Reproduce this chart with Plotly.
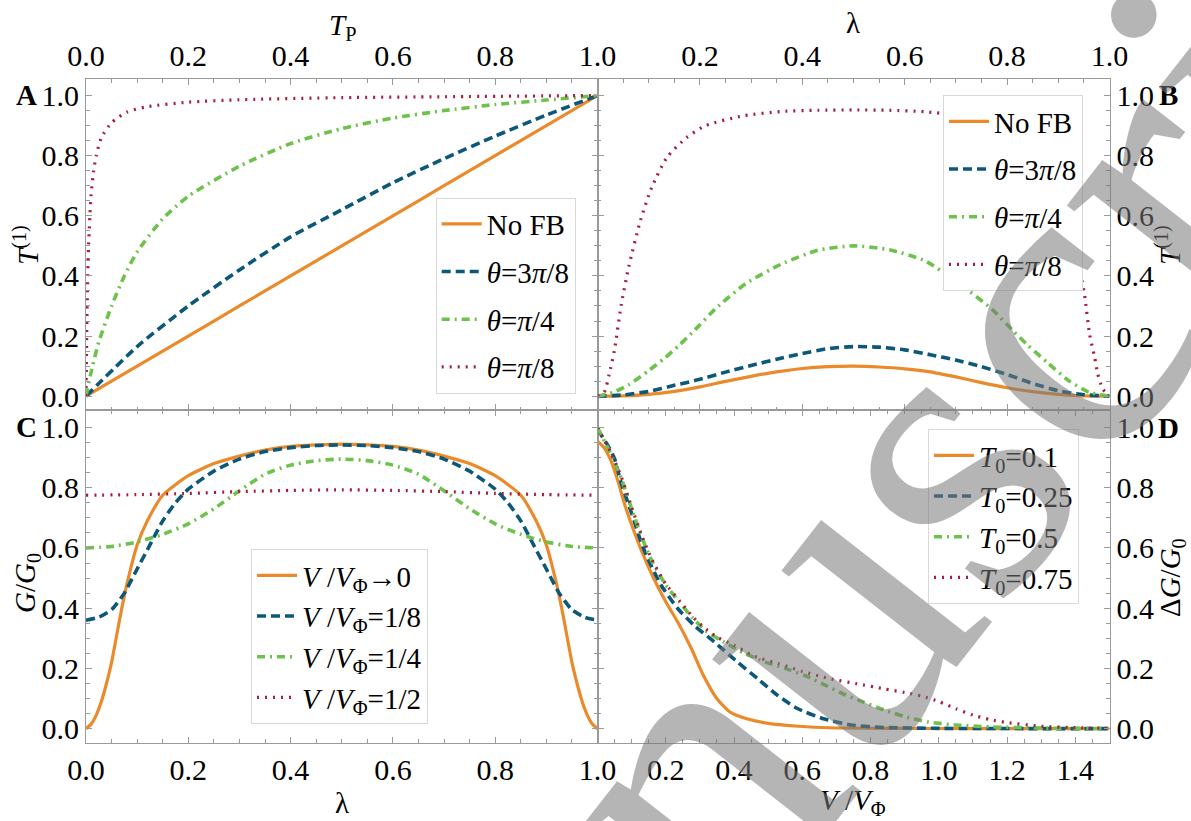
import numpy as np
import plotly.graph_objects as go

# ---------------- data ----------------
# Panel A : T^(1) vs T_P
a_tp_lin = [0, 0.1, 0.2, 0.3, 0.4, 0.5, 0.6, 0.7, 0.8, 0.9, 1.0]
a_nofb = [0, 0.1, 0.2, 0.3, 0.4, 0.5, 0.6, 0.7, 0.8, 0.9, 1.0]
a_3pi8 = [0, 0.165, 0.30, 0.42, 0.53, 0.62, 0.71, 0.79, 0.865, 0.935, 1.0]
a_tp_pi4 = [0, 0.01, 0.025, 0.05, 0.075, 0.1, 0.15, 0.2, 0.3, 0.4, 0.5, 0.6, 0.7, 0.8, 0.9, 1.0]
a_pi4 = [0, 0.08, 0.18, 0.30, 0.40, 0.48, 0.59, 0.665, 0.765, 0.84, 0.89, 0.925, 0.95, 0.97, 0.985, 1.0]
a_tp_pi8 = [0, 0.002, 0.005, 0.01, 0.015, 0.02, 0.03, 0.05, 0.08, 0.12, 0.2, 0.3, 0.5, 0.7, 1.0]
a_pi8 = [0, 0.28, 0.50, 0.67, 0.75, 0.80, 0.86, 0.91, 0.945, 0.963, 0.978, 0.986, 0.993, 0.996, 1.0]

# Panel B : T^(1) vs lambda
b_lam = [0, 0.05, 0.1, 0.15, 0.2, 0.25, 0.3, 0.35, 0.4, 0.45, 0.5, 0.55, 0.6, 0.65, 0.7, 0.75, 0.8, 0.85, 0.9, 0.95, 1.0]
b_nofb = [0, 0.001, 0.006, 0.016, 0.031, 0.049, 0.066, 0.081, 0.092, 0.098, 0.1, 0.097, 0.091, 0.081, 0.064, 0.045, 0.028, 0.015, 0.006, 0.001, 0]
b_3pi8 = [0, 0.004, 0.016, 0.036, 0.056, 0.08, 0.102, 0.123, 0.142, 0.158, 0.165, 0.163, 0.154, 0.138, 0.12, 0.098, 0.072, 0.042, 0.018, 0.005, 0]
b_lam_pi4 = [0, 0.03, 0.06, 0.1, 0.13, 0.16, 0.19, 0.23, 0.29, 0.36, 0.43, 0.5, 0.57, 0.64, 0.71, 0.77, 0.81, 0.84, 0.88, 0.92, 0.96, 1.0]
b_pi4 = [0, 0.012, 0.037, 0.085, 0.125, 0.17, 0.22, 0.29, 0.375, 0.44, 0.485, 0.50, 0.487, 0.45, 0.37, 0.29, 0.22, 0.17, 0.11, 0.052, 0.013, 0]
b_lam_pi8 = [0, 0.013, 0.023, 0.033, 0.046, 0.061, 0.084, 0.106, 0.136, 0.174, 0.211, 0.286, 0.36, 0.43, 0.5,
             0.57, 0.64, 0.71, 0.79, 0.83, 0.87, 0.9, 0.93, 0.951, 0.961, 0.971, 0.977, 0.987, 1.0]
b_pi8 = [0, 0.013, 0.074, 0.152, 0.30, 0.43, 0.585, 0.695, 0.795, 0.86, 0.90, 0.933, 0.947, 0.951, 0.952,
         0.951, 0.946, 0.932, 0.895, 0.86, 0.80, 0.69, 0.52, 0.34, 0.207, 0.13, 0.074, 0.024, 0]

# Panel C : G/G0 vs lambda
c_lam_0 = [0, 0.01, 0.02, 0.03, 0.04, 0.05, 0.06, 0.07, 0.08, 0.1, 0.12, 0.15, 0.2, 0.25, 0.3, 0.35, 0.4, 0.5,
           0.6, 0.65, 0.7, 0.75, 0.8, 0.85, 0.88, 0.9, 0.92, 0.93, 0.94, 0.95, 0.96, 0.97, 0.98, 0.99, 1.0]
c_v0 = [0, 0.015, 0.045, 0.09, 0.15, 0.22, 0.31, 0.40, 0.48, 0.61, 0.69, 0.775, 0.84, 0.88, 0.905, 0.925, 0.937, 0.945,
        0.937, 0.925, 0.905, 0.88, 0.84, 0.775, 0.69, 0.61, 0.48, 0.40, 0.31, 0.22, 0.15, 0.09, 0.045, 0.015, 0]
c_lam_8 = [0, 0.025, 0.05, 0.075, 0.1, 0.125, 0.15, 0.175, 0.2, 0.25, 0.3, 0.35, 0.4, 0.45, 0.5,
           0.55, 0.6, 0.65, 0.7, 0.75, 0.8, 0.825, 0.85, 0.875, 0.9, 0.925, 0.95, 0.975, 1.0]
c_v8 = [0.36, 0.37, 0.395, 0.45, 0.53, 0.61, 0.69, 0.75, 0.795, 0.855, 0.895, 0.92, 0.933, 0.94, 0.942,
        0.94, 0.933, 0.92, 0.895, 0.855, 0.795, 0.75, 0.69, 0.61, 0.53, 0.45, 0.395, 0.37, 0.36]
c_lam_4 = [0, 0.05, 0.1, 0.15, 0.2, 0.25, 0.3, 0.35, 0.4, 0.45, 0.5, 0.55, 0.6, 0.65, 0.7, 0.75, 0.8, 0.85, 0.9, 0.95, 1.0]
c_v4 = [0.600, 0.605, 0.62, 0.645, 0.68, 0.73, 0.79, 0.845, 0.875, 0.89, 0.895, 0.89, 0.875, 0.845, 0.79, 0.73, 0.68,
        0.645, 0.62, 0.605, 0.600]
c_lam_2 = [0, 0.1, 0.2, 0.3, 0.4, 0.5, 0.6, 0.7, 0.8, 0.9, 1.0]
c_v2 = [0.775, 0.777, 0.781, 0.787, 0.791, 0.793, 0.791, 0.787, 0.781, 0.777, 0.775]

# Panel D : dG/G0 vs V/V_Phi
d_v_01 = [0, 0.02, 0.04, 0.06, 0.08, 0.1, 0.13, 0.16, 0.2, 0.235, 0.275, 0.31, 0.35, 0.39, 0.44, 0.51, 0.59, 0.68, 0.88, 1.1, 1.5]
d_t01 = [0.954, 0.932, 0.888, 0.821, 0.743, 0.677, 0.588, 0.51, 0.421, 0.354, 0.266, 0.177, 0.099, 0.054, 0.032, 0.016,
         0.008, 0.003, 0.001, 0.0, 0.0]
d_v_025 = [0, 0.029, 0.049, 0.068, 0.088, 0.108, 0.127, 0.147, 0.186, 0.235, 0.283, 0.342, 0.41, 0.469, 0.528, 0.587,
           0.665, 0.743, 0.84, 1.0, 1.5]
d_t025 = [0.993, 0.943, 0.899, 0.821, 0.754, 0.688, 0.621, 0.566, 0.477, 0.399, 0.343, 0.288, 0.221, 0.166, 0.11, 0.066,
          0.032, 0.012, 0.004, 0.001, 0.0]
d_v_05 = [0, 0.04, 0.07, 0.1, 0.13, 0.16, 0.2, 0.24, 0.28, 0.32, 0.37, 0.43, 0.49, 0.55, 0.61, 0.67, 0.72, 0.78, 0.84,
          0.9, 0.97, 1.05, 1.15, 1.3, 1.5]
d_t05 = [1.0, 0.91, 0.83, 0.73, 0.635, 0.555, 0.477, 0.42, 0.366, 0.322, 0.288, 0.25, 0.222, 0.2, 0.175, 0.143, 0.115,
         0.088, 0.062, 0.04, 0.022, 0.012, 0.006, 0.002, 0.0]
d_v_075 = [0, 0.04, 0.07, 0.1, 0.13, 0.16, 0.2, 0.24, 0.28, 0.31, 0.35, 0.4, 0.46, 0.53, 0.6, 0.68, 0.76, 0.84, 0.9,
           0.95, 1.0, 1.05, 1.1, 1.15, 1.2, 1.3, 1.4, 1.5]
d_t075 = [1.0, 0.915, 0.835, 0.735, 0.64, 0.56, 0.48, 0.425, 0.37, 0.338, 0.304, 0.277, 0.24, 0.216, 0.19, 0.166, 0.149,
          0.132, 0.12, 0.108, 0.09, 0.066, 0.045, 0.03, 0.02, 0.008, 0.003, 0.001]

legend_ab = ["No FB", "<i>θ</i>=3<i>π</i>/8", "<i>θ</i>=<i>π</i>/4", "<i>θ</i>=<i>π</i>/8"]
legend_c = ["<i>V</i> /<i>V</i><sub>Φ</sub>→0", "<i>V</i> /<i>V</i><sub>Φ</sub>=1/8",
            "<i>V</i> /<i>V</i><sub>Φ</sub>=1/4", "<i>V</i> /<i>V</i><sub>Φ</sub>=1/2"]
legend_d = ["<i>T</i><sub>0</sub>=0.1", "<i>T</i><sub>0</sub>=0.25", "<i>T</i><sub>0</sub>=0.5", "<i>T</i><sub>0</sub>=0.75"]

# ---------------- styling ----------------
W, H = 1191, 821
FONT = '"Liberation Serif", "Times New Roman", serif'
ORANGE, TEAL, GREEN, RED = "#EA8A2B", "#0C5878", "#6CC24A", "#A91D3A"
STYLES = [
    dict(color=ORANGE, width=3.2, dash="solid"),
    dict(color=TEAL, width=3.6, dash="9px,5px"),
    dict(color=GREEN, width=3.6, dash="8px,5px,2px,5px"),
    dict(color=RED, width=3.2, dash="2px,6px"),
]
FRAME = "#9a9a9a"


def px(x):
    return x / W


def py(y):
    return 1 - y / H


XL = (px(86), px(597.5))
XR = (px(597.5), px(1109.5))
YT = (py(410), py(79))
YB = (py(742.5), py(410))

fig = go.Figure()

panels = [
    ("x", "y", "legend", [(a_tp_lin, a_nofb), (a_tp_lin, a_3pi8), (a_tp_pi4, a_pi4), (a_tp_pi8, a_pi8)], legend_ab),
    ("x2", "y2", "legend2", [(b_lam, b_nofb), (b_lam, b_3pi8), (b_lam_pi4, b_pi4), (b_lam_pi8, b_pi8)], legend_ab),
    ("x3", "y3", "legend3", [(c_lam_0, c_v0), (c_lam_8, c_v8), (c_lam_4, c_v4), (c_lam_2, c_v2)], legend_c),
    ("x4", "y4", "legend4", [(d_v_01, d_t01), (d_v_025, d_t025), (d_v_05, d_t05), (d_v_075, d_t075)], legend_d),
]
for xa, ya, lg, series, names in panels:
    for i, ((xs, ys), name) in enumerate(zip(series, names)):
        fig.add_trace(go.Scatter(
            x=xs, y=ys, mode="lines", name=name, xaxis=xa, yaxis=ya, legend=lg,
            legendgroup=f"{lg}_{i}", line=dict(shape="spline", smoothing=0.6, **STYLES[i]),
            showlegend=True,
        ))

tickfont = dict(family=FONT, size=30, color="black")


def axis(domain, anchor, side, rng, major, labels, minor_max):
    return dict(
        domain=list(domain), anchor=anchor, side=side, range=rng, automargin=False,
        tickmode="array", tickvals=major, ticktext=labels,
        ticks="inside", ticklen=6, tickwidth=1, tickcolor=FRAME,
        minor=dict(tickmode="array", tickvals=list(np.round(np.arange(0, minor_max + 1e-9, 0.05), 3)),
                   ticklen=3.5, tickcolor=FRAME, ticks="inside", showgrid=False),
        showline=True, linecolor=FRAME, linewidth=1, mirror="ticks",
        showgrid=False, zeroline=False, tickfont=tickfont, fixedrange=True,
    )


maj1 = [0, 0.2, 0.4, 0.6, 0.8, 1.0]
lab1 = ["0.0", "0.2", "0.4", "0.6", "0.8", "1.0"]
lab1_no0 = ["", "0.2", "0.4", "0.6", "0.8", "1.0"]
maj15 = [0, 0.2, 0.4, 0.6, 0.8, 1.0, 1.2, 1.4]
lab15 = ["", "0.2", "0.4", "0.6", "0.8", "1.0", "1.2", "1.4"]
yr_top = [-0.046, 1.055]
yr_bot = [-0.046, 1.058]

fig.update_layout(
    xaxis=axis(XL, "y", "top", [0, 1], maj1, lab1, 1.0),
    yaxis=axis(YT, "x", "left", yr_top, maj1, lab1, 1.0),
    xaxis2=axis(XR, "y2", "top", [0, 1], maj1, lab1_no0, 1.0),
    yaxis2=axis(YT, "x2", "right", yr_top, maj1, lab1, 1.0),
    xaxis3=axis(XL, "y3", "bottom", [0, 1], maj1, lab1, 1.0),
    yaxis3=axis(YB, "x3", "left", yr_bot, maj1, lab1, 1.0),
    xaxis4=axis(XR, "y4", "bottom", [0, 1.5], maj15, lab15, 1.5),
    yaxis4=axis(YB, "x4", "right", yr_bot, maj1, lab1, 1.0),
)

legfont = dict(family=FONT, size=29, color="black")


def legend(x, y, gap):
    return dict(x=px(x), y=py(y), xanchor="left", yanchor="top", bgcolor="white",
                bordercolor="#d8d8d8", borderwidth=1, font=legfont, tracegroupgap=gap,
                itemwidth=40, traceorder="grouped")


fig.update_layout(
    legend=legend(435.7, 197.5, 7),
    legend2=legend(943, 95, 7),
    legend3=legend(251, 549, 0),
    legend4=legend(928, 429, 0),
)

ann = []


def note(text, x, y, size=29, angle=0, bold=False):
    t = f"<b>{text}</b>" if bold else text
    ann.append(dict(text=t, x=px(x), y=py(y), xref="paper", yref="paper", showarrow=False,
                    xanchor="center", yanchor="middle", textangle=angle,
                    font=dict(family=FONT, size=size, color="black")))


note("<i>T</i><sub>P</sub>", 342, 27)
note("λ", 853, 23)
note("λ", 342, 803)
note("<i>V</i> /<i>V</i><sub>Φ</sub>", 853, 802)
note("<i>T</i><sup>(1)</sup>", 26, 245, angle=-90)
note("<i>G</i>/<i>G</i><sub>0</sub>", 27, 583, angle=-90)
note("<i>T</i><sup>(1)</sup>", 1168, 245, angle=-90)
note("Δ<i>G</i>/<i>G</i><sub>0</sub>", 1172, 578, angle=-90)
note("A", 26, 95, bold=True)
note("C", 26, 427, bold=True)
note("B", 1168, 95, bold=True)
note("D", 1168, 428, bold=True)

# watermark
ann.append(dict(text="Manuscript", x=px(868), y=py(545), xref="paper", yref="paper", showarrow=False,
                xanchor="center", yanchor="middle", textangle=-52,
                font=dict(family=FONT, size=430, color="rgba(120,120,120,0.55)")))

fig.update_layout(
    annotations=ann,
    width=W, height=H, margin=dict(l=0, r=0, t=0, b=0, autoexpand=False),
    paper_bgcolor="white", plot_bgcolor="white",
    font=dict(family=FONT, size=27, color="black"),
)

fig.write_html("out.html", config={"displayModeBar": False, "staticPlot": True},
               post_script="document.body.style.margin='0';document.body.style.overflow='hidden';")
